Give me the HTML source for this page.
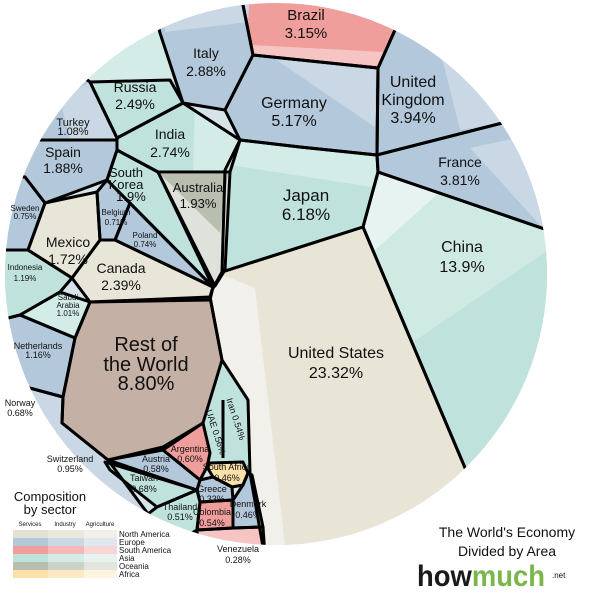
<!DOCTYPE html>
<html><head><meta charset="utf-8"><style>
body{margin:0;background:#fff}
svg{display:block}
text{font-family:"Liberation Sans",Arial,sans-serif;fill:#111;text-anchor:middle}
.o polygon{fill:none}
</style></head><body>
<svg width="600" height="600" viewBox="0 0 600 600">
<defs><clipPath id="c"><circle cx="276" cy="274" r="271"/></clipPath></defs>
<g clip-path="url(#c)">
<rect x="0" y="0" width="600" height="600" fill="#d6e4ea"/>
<g stroke="none">
<polygon fill="#ef9e9b" points="240,-10 253,55 378,68 395,30 400,-10"/>
<polygon fill="#b3c8db" points="395,30 410,-10 600,-10 600,98 377,155 378,68"/>
<polygon fill="#b3c8db" points="377,155 600,98 600,248 378,172"/>
<polygon fill="#cfe9e3" points="378,172 600,248 600,600 521,600 363,227"/>
<polygon fill="#bfe3dc" points="225,170 240,140 300,147 377,155 378,172 363,227 222,272"/>
<polygon fill="#b3c8db" points="225,110 253,55 378,68 377,155 300,147 240,140"/>
<polygon fill="#b3c8db" points="160,33 183,103 225,110 253,55 240,-10 150,-10"/>
<polygon fill="#d4ece8" points="30,60 90,82 183,103 160,33 150,-10 40,-10"/>
<polygon fill="#bfe3dc" points="90,82 170,80 183,103 117,138"/>
<polygon fill="#b3c8db" points="0,140 117,140 117,138 90,82 60,60 0,60"/>
<polygon fill="#b3c8db" points="0,140 117,140 117,150 107,180 45,203 25,177 0,175"/>
<polygon fill="#b3c8db" points="0,175 25,177 45,203 28,250 0,250"/>
<polygon fill="#e8e5d9" points="28,250 45,203 97,192 100,240 72,278"/>
<polygon fill="#b3c8db" points="97,192 107,180 130,203 115,240 100,240"/>
<polygon fill="#b3c8db" points="115,240 130,203 213,287"/>
<polygon fill="#bfe3dc" points="117,150 158,172 213,287 107,180"/>
<polygon fill="#dfe2da" points="158,172 230,172 225,270 215,286"/>
<polygon fill="#bfe3dc" points="117,138 183,103 240,140 230,172 158,172 117,150"/>
<polygon fill="#e8e5d9" points="72,278 100,240 115,240 213,287 210,300 90,302"/>
<polygon fill="#bfe3dc" points="0,250 28,250 72,278 60,292 20,315 0,320"/>
<polygon fill="#d4ece8" points="20,315 60,292 90,302 75,338"/>
<polygon fill="#b3c8db" points="0,320 20,315 75,338 63,397 0,380"/>
<polygon fill="#c9d8e4" points="0,380 63,397 62,423 108,460 160,530 160,600 0,600"/>
<polygon fill="#e8e5d7" points="212,290 222,272 363,227 521,600 270,600 263,547 250,473 248,400 222,360 210,297"/>
<polygon fill="#bfe3dc" points="210,297 222,360 248,400 250,473 243,462 210,463 203,423 222,360"/>
<polygon fill="#c5b0a5" points="90,302 210,297 222,360 203,423 163,447 108,460 62,423 63,397 75,338"/>
<polygon fill="#ef9e9b" points="163,450 203,423 210,453 207,467 200,480"/>
<polygon fill="#b3c8db" points="108,460 163,450 200,480 197,490"/>
<polygon fill="#bfe3dc" points="105,462 197,490 157,507 110,470"/>
<polygon fill="#bfe3dc" points="157,507 197,490 200,502 197,530 170,545 140,520"/>
<polygon fill="#b3c8db" points="200,480 213,477 232,487 233,500 200,502 197,490"/>
<polygon fill="#fbe0a8" points="210,463 243,462 248,473 243,485 232,487 213,477 207,467"/>
<polygon fill="#b3c8db" points="233,500 243,485 248,473 252,475 263,527 233,528"/>
<polygon fill="#ef9e9b" points="200,502 233,500 233,528 197,530"/>
<polygon fill="#f6c5c3" points="197,530 233,528 263,527 268,600 200,600"/>
</g>
<g stroke="none">
<polygon fill="#f6c5c3" points="251,45 385,52 380,66 253,55"/>
<polygon fill="#c9d8e4" points="440,50 560,40 600,98 500,123 460,130"/>
<polygon fill="#c9d8e4" points="470,148 600,120 600,240 540,225"/>
<polygon fill="#bfe3dc" points="413,342 600,215 600,600 521,600 470,480"/>
<polygon fill="#e6f3f0" points="380,175 440,192 375,250 363,227"/>
<polygon fill="#d4ece8" points="227,166 240,142 300,149 376,157 377,171 372,187 230,165"/>
<polygon fill="#c9d8e4" points="275,59 376,70 375,127"/>
<polygon fill="#c9d8e4" points="165,32 248,22 250,-10 165,-10"/>
<polygon fill="#d4ece8" points="195,107 238,141 229,170 193,170"/>
<polygon fill="#b8bfb0" points="160,174 228,174 220,233"/>
<polygon fill="#c9d8e4" points="60,100 90,82 117,138 70,140"/>
<polygon fill="#f1f0ea" points="214,290 223,275 255,288 285,545 265,545 249,473 247,400 223,360 212,298"/>
</g>
<g class="o" stroke="#000" stroke-width="3" stroke-linejoin="round">
<polygon points="240,-10 253,55 378,68 395,30 400,-10"/>
<polygon points="395,30 410,-10 600,-10 600,98 377,155 378,68"/>
<polygon points="377,155 600,98 600,248 378,172"/>
<polygon points="378,172 600,248 600,600 521,600 363,227"/>
<polygon points="225,170 240,140 300,147 377,155 378,172 363,227 222,272"/>
<polygon points="225,110 253,55 378,68 377,155 300,147 240,140"/>
<polygon points="160,33 183,103 225,110 253,55 240,-10 150,-10"/>
<polygon points="90,82 170,80 183,103 117,138"/>
<polygon points="0,140 117,140 117,138 90,82 60,60 0,60"/>
<polygon points="0,140 117,140 117,150 107,180 45,203 25,177 0,175"/>
<polygon points="0,175 25,177 45,203 28,250 0,250"/>
<polygon points="28,250 45,203 97,192 100,240 72,278"/>
<polygon points="97,192 107,180 130,203 115,240 100,240"/>
<polygon points="115,240 130,203 213,287"/>
<polygon points="117,150 158,172 213,287 107,180"/>
<polygon points="158,172 230,172 225,270 215,286"/>
<polygon points="117,138 183,103 240,140 230,172 158,172 117,150"/>
<polygon points="72,278 100,240 115,240 213,287 210,300 90,302"/>
<polygon points="0,250 28,250 72,278 60,292 20,315 0,320"/>
<polygon points="20,315 60,292 90,302 75,338"/>
<polygon points="0,320 20,315 75,338 63,397 0,380"/>
<polygon points="0,380 63,397 62,423 108,460 160,530 160,600 0,600"/>
<polygon points="212,290 222,272 363,227 521,600 270,600 263,547 250,473 248,400 222,360 210,297"/>
<polygon points="90,302 210,297 222,360 203,423 163,447 108,460 62,423 63,397 75,338"/>
<polygon points="163,450 203,423 210,453 207,467 200,480"/>
<polygon points="108,460 163,450 200,480 197,490"/>
<polygon points="105,462 197,490 157,507 110,470"/>
<polygon points="157,507 197,490 200,502 197,530 170,545 140,520"/>
<polygon points="200,480 213,477 232,487 233,500 200,502 197,490"/>
<polygon points="210,463 243,462 248,473 243,485 232,487 213,477 207,467"/>
<polygon points="233,500 243,485 248,473 252,475 263,527 233,528"/>
<polygon points="200,502 233,500 233,528 197,530"/>
<polygon points="197,530 233,528 263,527 268,600 200,600"/>
<polyline fill="none" points="223,400 223,458"/>
</g>
</g>
<g font-size="15"><text x="306" y="20">Brazil</text><text x="306" y="38">3.15%</text></g>
<g font-size="14"><text x="206" y="58">Italy</text><text x="206" y="76">2.88%</text></g>
<g font-size="14"><text x="135" y="92">Russia</text><text x="135" y="109">2.49%</text></g>
<g font-size="16"><text x="294" y="108">Germany</text><text x="294" y="126">5.17%</text></g>
<g font-size="16"><text x="413" y="87">United</text><text x="413" y="105">Kingdom</text><text x="413" y="123">3.94%</text></g>
<g font-size="11"><text x="73" y="126">Turkey</text><text x="73" y="135">1.08%</text></g>
<g font-size="14"><text x="170" y="139">India</text><text x="170" y="157">2.74%</text></g>
<g font-size="14"><text x="63" y="157">Spain</text><text x="63" y="173">1.88%</text></g>
<g font-size="14"><text x="460" y="167">France</text><text x="460" y="185">3.81%</text></g>
<g font-size="13"><text x="126" y="177">South</text><text x="126" y="189">Korea</text><text x="131" y="201">1.9%</text></g>
<g font-size="13"><text x="198" y="192">Australia</text><text x="198" y="208">1.93%</text></g>
<g font-size="17"><text x="306" y="201">Japan</text><text x="306" y="220">6.18%</text></g>
<g font-size="8"><text x="25" y="211">Sweden</text><text x="25" y="219">0.75%</text></g>
<g font-size="8"><text x="116" y="215">Belgium</text><text x="116" y="225">0.71%</text></g>
<g font-size="8"><text x="145" y="238">Poland</text><text x="145" y="247">0.74%</text></g>
<g font-size="16"><text x="462" y="252">China</text><text x="462" y="272">13.9%</text></g>
<g font-size="14"><text x="68" y="247">Mexico</text><text x="68" y="264">1.72%</text></g>
<g font-size="14"><text x="121" y="273">Canada</text><text x="121" y="290">2.39%</text></g>
<g font-size="8"><text x="25" y="270">Indonesia</text><text x="25" y="281">1.19%</text></g>
<g font-size="8"><text x="68" y="300">Saudi</text><text x="68" y="308">Arabia</text><text x="68" y="316">1.01%</text></g>
<g font-size="20"><text x="146" y="351">Rest of</text><text x="146" y="371">the World</text><text x="146" y="390">8.80%</text></g>
<g font-size="16"><text x="336" y="358">United States</text><text x="336" y="378">23.32%</text></g>
<g font-size="9"><text x="38" y="349">Netherlands</text><text x="38" y="358">1.16%</text></g>
<g font-size="9"><text x="20" y="406">Norway</text><text x="20" y="416">0.68%</text></g>
<g font-size="9"><text x="70" y="462">Switzerland</text><text x="70" y="472">0.95%</text></g>
<g font-size="9"><text transform="translate(213,433) rotate(72)">UAE 0.56%</text><text transform="translate(233,420) rotate(72)">Iran 0.54%</text></g>
<g font-size="9"><text x="190" y="452">Argentina</text><text x="190" y="462">0.60%</text></g>
<g font-size="9"><text x="156" y="462">Austria</text><text x="156" y="472">0.58%</text></g>
<g font-size="9"><text x="227" y="470">South Africa</text><text x="227" y="481">0.46%</text></g>
<g font-size="9"><text x="212" y="492">Greece</text><text x="212" y="502">0.33%</text></g>
<g font-size="9"><text x="144" y="481">Taiwan</text><text x="144" y="492">0.68%</text></g>
<g font-size="9"><text x="180" y="510">Thailand</text><text x="180" y="520">0.51%</text></g>
<g font-size="9"><text x="212" y="515">Colombia</text><text x="212" y="526">0.54%</text></g>
<g font-size="9"><text x="248" y="507">Denmark</text><text x="248" y="518">0.46%</text></g>
<g font-size="9"><text x="238" y="552">Venezuela</text><text x="238" y="563">0.28%</text></g>
<g font-size="13"><text x="50" y="501">Composition</text><text x="50" y="514">by sector</text></g>
<g font-size="6" fill="#444"><text x="30" y="526">Services</text><text x="65" y="526">Industry</text><text x="100" y="526">Agriculture</text></g>
<g>
<rect x="13" y="530" width="35" height="8" fill="#e4e1d5"/><rect x="48" y="530" width="36" height="8" fill="#ebe8de"/><rect x="84" y="530" width="33" height="8" fill="#f2f0ea"/>
<rect x="13" y="538" width="35" height="8" fill="#b3c8db"/><rect x="48" y="538" width="36" height="8" fill="#c9d8e4"/><rect x="84" y="538" width="33" height="8" fill="#e0e8ef"/>
<rect x="13" y="546" width="35" height="8" fill="#ef9e9b"/><rect x="48" y="546" width="36" height="8" fill="#f4b9b7"/><rect x="84" y="546" width="33" height="8" fill="#f8d6d5"/>
<rect x="13" y="554" width="35" height="8" fill="#bfe3dc"/><rect x="48" y="554" width="36" height="8" fill="#d4ece8"/><rect x="84" y="554" width="33" height="8" fill="#e6f3f0"/>
<rect x="13" y="562" width="35" height="8" fill="#b8bfb0"/><rect x="48" y="562" width="36" height="8" fill="#cdd2c7"/><rect x="84" y="562" width="33" height="8" fill="#e2e5de"/>
<rect x="13" y="570" width="35" height="8" fill="#fbe0a8"/><rect x="48" y="570" width="36" height="8" fill="#fce9c4"/><rect x="84" y="570" width="33" height="8" fill="#fdf3de"/>
</g>
<g font-size="8"><text x="119" y="537" style="text-anchor:start">North America</text><text x="119" y="545" style="text-anchor:start">Europe</text><text x="119" y="553" style="text-anchor:start">South America</text><text x="119" y="561" style="text-anchor:start">Asia</text><text x="119" y="569" style="text-anchor:start">Oceania</text><text x="119" y="577" style="text-anchor:start">Africa</text></g>
<g font-size="14"><text x="507" y="537">The World's Economy</text><text x="507" y="556">Divided by Area</text></g>
<text x="417" y="586" font-size="30" font-weight="bold" textLength="128" lengthAdjust="spacingAndGlyphs" style="text-anchor:start"><tspan fill="#1a1a1a">how</tspan><tspan fill="#7ab648">much</tspan></text>
<text x="552" y="578" font-size="8" style="text-anchor:start">.net</text>
</svg>
</body></html>
